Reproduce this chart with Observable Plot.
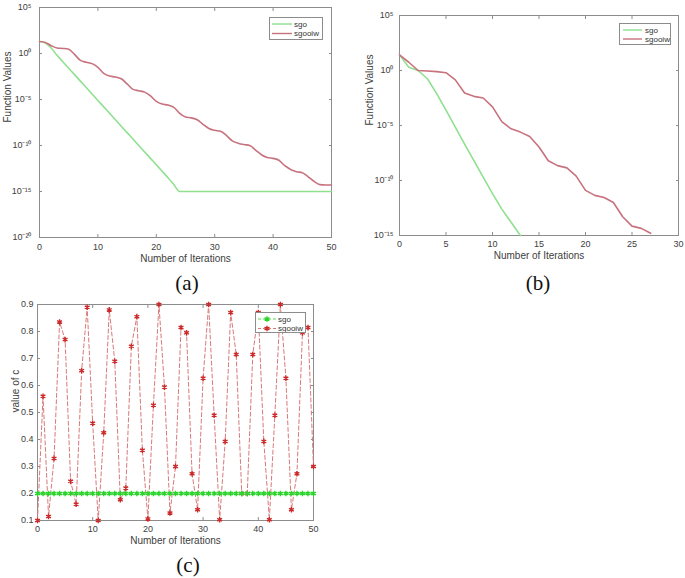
<!DOCTYPE html>
<html><head><meta charset="utf-8">
<script src="https://cdn.jsdelivr.net/npm/d3@7"></script>
<script src="https://cdn.jsdelivr.net/npm/@observablehq/plot@0.6"></script>
<style>
html,body{margin:0;padding:0;background:#fff;}
body{width:685px;height:578px;position:relative;overflow:hidden;font-family:"Liberation Sans",Arial,sans-serif;}
.panel{position:absolute;}
.cap{position:absolute;font-family:"Liberation Serif","Times New Roman",serif;font-size:21px;color:#111;transform:translate(-50%,-50%);line-height:1;}
.legend{position:absolute;background:#fff;border:1px solid #8c8c8c;box-sizing:border-box;}
.legend svg{display:block;}
</style></head><body>
<script>
// ---------- data ----------
const seriesNames = ["sgo", "sgooiw"];

// (a) function values, stored as log10 exponents, iteration = index (0..50)
const aSgoLog10 = [1.3, 1.15, 0.6, -0.2, -0.9, -1.6, -2.3, -3.0, -3.7, -4.4,
  -5.1, -5.8, -6.5, -7.2, -7.9, -8.6, -9.3, -10.0, -10.7, -11.4,
  -12.1, -12.8, -13.5, -14.25, -15, -15, -15, -15, -15, -15,
  -15, -15, -15, -15, -15, -15, -15, -15, -15, -15,
  -15, -15, -15, -15, -15, -15, -15, -15, -15, -15, -15];
const aSgooiwLog10 = [1.3, 1.2, 0.85, 0.6, 0.55, 0.45, -0.1, -0.75, -0.95, -1.1,
  -1.5, -2.15, -2.45, -2.55, -2.75, -3.3, -3.9, -4.05, -4.2, -4.6,
  -5.2, -5.5, -5.6, -5.85, -6.5, -6.9, -7.0, -7.2, -7.7, -8.15,
  -8.35, -8.45, -8.9, -9.5, -9.75, -9.9, -10.0, -10.5, -11.0, -11.3,
  -11.4, -11.6, -12.2, -12.6, -12.85, -12.95, -13.4, -13.9, -14.25, -14.3, -14.3];
const aXTicks = [0, 10, 20, 30, 40, 50];
const aYTicks = [1e5, 1e0, 1e-5, 1e-10, 1e-15, 1e-20];

// (b)
const bSgoLog10 = [1.42, 0.3, 0.0, -0.75, -2.1, -3.6, -5.15, -6.7, -8.2, -9.7, -11.2, -12.6, -13.8, -15];
const bSgooiwLog10 = [1.42, 0.75, 0.0, -0.05, -0.1, -0.2, -0.85, -2.05, -2.35, -2.5,
  -3.3, -4.65, -5.3, -5.6, -6.0, -6.95, -8.2, -8.65, -8.85, -9.6,
  -10.9, -11.35, -11.55, -12.0, -13.3, -14.15, -14.35, -14.8];
const bXTicks = [0, 5, 10, 15, 20, 25, 30];
const bYTicks = [1e5, 1e0, 1e-5, 1e-10, 1e-15];

// (c) value of c
const cSgo = [0.2, 0.2, 0.2, 0.2, 0.2, 0.2, 0.2, 0.2, 0.2, 0.2,
  0.2, 0.2, 0.2, 0.2, 0.2, 0.2, 0.2, 0.2, 0.2, 0.2,
  0.2, 0.2, 0.2, 0.2, 0.2, 0.2, 0.2, 0.2, 0.2, 0.2,
  0.2, 0.2, 0.2, 0.2, 0.2, 0.2, 0.2, 0.2, 0.2, 0.2,
  0.2, 0.2, 0.2, 0.2, 0.2, 0.2, 0.2, 0.2, 0.2, 0.2, 0.2];
const cSgooiw = [0.10, 0.56, 0.115, 0.33, 0.835, 0.77, 0.245, 0.16, 0.655, 0.89,
  0.46, 0.10, 0.425, 0.88, 0.69, 0.177, 0.22, 0.745, 0.855, 0.36,
  0.106, 0.527, 0.90, 0.594, 0.128, 0.30, 0.815, 0.795, 0.273, 0.14,
  0.627, 0.90, 0.49, 0.103, 0.393, 0.87, 0.715, 0.20, 0.20, 0.715,
  0.87, 0.393, 0.103, 0.49, 0.90, 0.627, 0.14, 0.273, 0.795, 0.815, 0.30];
const cXTicks = [0, 10, 20, 30, 40, 50];
const cYTicks = [0.1, 0.2, 0.3, 0.4, 0.5, 0.6, 0.7, 0.8, 0.9];

const xLabel = "Number of Iterations";
const yLabelAB = "Function Values";
const yLabelC = "value of c";
const captions = ["(a)", "(b)", "(c)"];

// ---------- styling ----------
const GREEN = "#8fe08f", RED = "#c8727e";
const C_GREEN_LINE = "#55dd55", C_GREEN_MK = "#2bd42b";
const C_RED_LINE = "#d97a7a", C_RED_MK = "#cc2a2a";
const FRAME = "#8c8c8c", TEXT = "#404040";

const sup = {"-": "\u207B", "0": "\u2070", "1": "\u00B9", "2": "\u00B2", "3": "\u00B3", "4": "\u2074", "5": "\u2075", "6": "\u2076", "7": "\u2077", "8": "\u2078", "9": "\u2079"};
const pow10 = d => "10" + String(Math.round(Math.log10(d))).split("").map(c => sup[c]).join("");
const rows = (arr, f = v => v) => arr.map((v, i) => ({x: i, y: f(v)}));
const exp10 = v => Math.pow(10, v);
const blank = () => "";

function axes(xt, yt, yfmt, ypad, xpad) {
  return [
    Plot.frame({stroke: FRAME, strokeWidth: 1}),
    Plot.axisX(xt, {anchor: "bottom", tickSize: -3, tickPadding: xpad, stroke: FRAME, fill: TEXT, label: null, fontSize: 9}),
    Plot.axisX(xt, {anchor: "top", tickSize: -3, tickFormat: blank, stroke: FRAME, label: null}),
    Plot.axisY(yt, {anchor: "left", tickSize: -3, tickPadding: ypad, tickFormat: yfmt, stroke: FRAME, fill: TEXT, label: null, fontSize: 9}),
    Plot.axisY(yt, {anchor: "right", tickSize: -3, tickFormat: blank, stroke: FRAME, label: null})
  ];
}
const baseStyle = {fontFamily: "'Liberation Sans', Arial, sans-serif", fontSize: "9px", color: TEXT, background: "transparent", overflow: "visible"};

function place(svg, left, top) {
  const d = document.createElement("div");
  d.className = "panel"; d.style.left = left + "px"; d.style.top = top + "px";
  d.appendChild(svg); document.body.appendChild(d);
}

// ---------- (a) ----------
const plotA = Plot.plot({
  width: 340, height: 275, marginLeft: 39, marginRight: 9, marginTop: 7, marginBottom: 38,
  style: baseStyle,
  x: {domain: [0, 50]},
  y: {type: "log", domain: [1e-20, 1e5]},
  marks: [
    ...axes(aXTicks, aYTicks, pow10, 11, 9),
    Plot.line(rows(aSgoLog10, exp10), {x: "x", y: "y", stroke: GREEN, strokeWidth: 1.6, curve: "monotone-x"}),
    Plot.line(rows(aSgooiwLog10, exp10), {x: "x", y: "y", stroke: RED, strokeWidth: 1.6, curve: "monotone-x"}),
    Plot.text([xLabel], {frameAnchor: "bottom", dy: 24, fontSize: 10, fill: TEXT}),
    Plot.text([yLabelAB], {frameAnchor: "left", rotate: -90, dx: -32, fontSize: 10, fill: TEXT})
  ]
});
place(plotA, 0, 0);

// ---------- (b) ----------
const plotB = Plot.plot({
  width: 340, height: 275, marginLeft: 54, marginRight: 7, marginTop: 15, marginBottom: 40,
  style: baseStyle,
  x: {domain: [0, 30]},
  y: {type: "log", domain: [1e-15, 1e5]},
  marks: [
    ...axes(bXTicks, bYTicks, pow10, 9, 8),
    Plot.line(rows(bSgoLog10, exp10), {x: "x", y: "y", stroke: GREEN, strokeWidth: 1.6}),
    Plot.line(rows(bSgooiwLog10, exp10), {x: "x", y: "y", stroke: RED, strokeWidth: 1.6}),
    Plot.text([xLabel], {frameAnchor: "bottom", dy: 23, fontSize: 10, fill: TEXT}),
    Plot.text([yLabelAB], {frameAnchor: "left", rotate: -90, dx: -30, fontSize: 10, fill: TEXT})
  ]
});
place(plotB, 345, 0);

// ---------- (c) ----------
const plotC = Plot.plot({
  width: 340, height: 290, marginLeft: 37, marginRight: 27, marginTop: 24, marginBottom: 50,
  style: baseStyle,
  x: {domain: [0, 50]},
  y: {domain: [0.1, 0.9]},
  marks: [
    ...axes(cXTicks, cYTicks, d3.format(".1f"), 7, 8),
    Plot.line(rows(cSgooiw), {x: "x", y: "y", stroke: C_RED_LINE, strokeWidth: 1, strokeDasharray: "4,2.5"}),
    Plot.dot(rows(cSgooiw), {x: "x", y: "y", symbol: "asterisk", stroke: C_RED_MK, r: 2.6, strokeWidth: 1.4}),
    Plot.line(rows(cSgo), {x: "x", y: "y", stroke: C_GREEN_LINE, strokeWidth: 1, strokeDasharray: "4,2.5"}),
    Plot.dot(rows(cSgo), {x: "x", y: "y", symbol: "asterisk", stroke: C_GREEN_MK, r: 2.6, strokeWidth: 1.4}),
    Plot.text([xLabel], {frameAnchor: "bottom", dy: 23, fontSize: 10, fill: TEXT}),
    Plot.text([yLabelC], {frameAnchor: "left", rotate: -90, dx: -22, fontSize: 10, fill: TEXT})
  ]
});
place(plotC, 0, 280);

// ---------- legends ----------
function legend(left, top, w, h, items) {
  const d = document.createElement("div");
  d.className = "legend";
  Object.assign(d.style, {left: left + "px", top: top + "px", width: w + "px", height: h + "px"});
  const svg = d3.create("svg").attr("width", w - 2).attr("height", h - 2);
  items.forEach((it) => {
    const y = it.y;
    svg.append("line").attr("x1", it.x1).attr("x2", it.x2).attr("y1", y).attr("y2", y)
      .attr("stroke", it.color).attr("stroke-width", it.width || 1.4)
      .attr("stroke-dasharray", it.dash || null);
    if (it.marker) {
      const sym = d3.symbol(d3.symbolAsterisk, 22)();
      svg.append("path").attr("d", sym).attr("transform", `translate(${(it.x1 + it.x2) / 2},${y})`)
        .attr("stroke", it.marker).attr("stroke-width", 1.4).attr("fill", "none");
    }
    svg.append("text").attr("x", it.tx).attr("y", y).attr("dy", "0.35em")
      .attr("font-size", 8).attr("fill", "#333").attr("font-family", "'Liberation Sans', Arial, sans-serif")
      .text(it.label);
  });
  d.appendChild(svg.node());
  document.body.appendChild(d);
}
legend(269, 17, 54, 23, [
  {label: seriesNames[0], color: GREEN, x1: 2, x2: 22, tx: 24, y: 6},
  {label: seriesNames[1], color: RED, x1: 2, x2: 22, tx: 24, y: 15.5}
]);
legend(619, 23, 52, 22, [
  {label: seriesNames[0], color: GREEN, x1: 3, x2: 22, tx: 25, y: 6},
  {label: seriesNames[1], color: RED, x1: 3, x2: 22, tx: 25, y: 15}
]);
legend(255, 312, 51, 21, [
  {label: seriesNames[0], color: C_GREEN_LINE, marker: C_GREEN_MK, dash: "3,2", width: 1, x1: 2, x2: 20, tx: 22, y: 6},
  {label: seriesNames[1], color: C_RED_LINE, marker: C_RED_MK, dash: "3,2", width: 1, x1: 2, x2: 20, tx: 22, y: 15.5}
]);

// ---------- captions ----------
[[captions[0], 187, 283], [captions[1], 538, 283], [captions[2], 188, 565]].forEach(([t, x, y]) => {
  const d = document.createElement("div");
  d.className = "cap"; d.textContent = t;
  d.style.left = x + "px"; d.style.top = y + "px";
  document.body.appendChild(d);
});
</script>
</body></html>
